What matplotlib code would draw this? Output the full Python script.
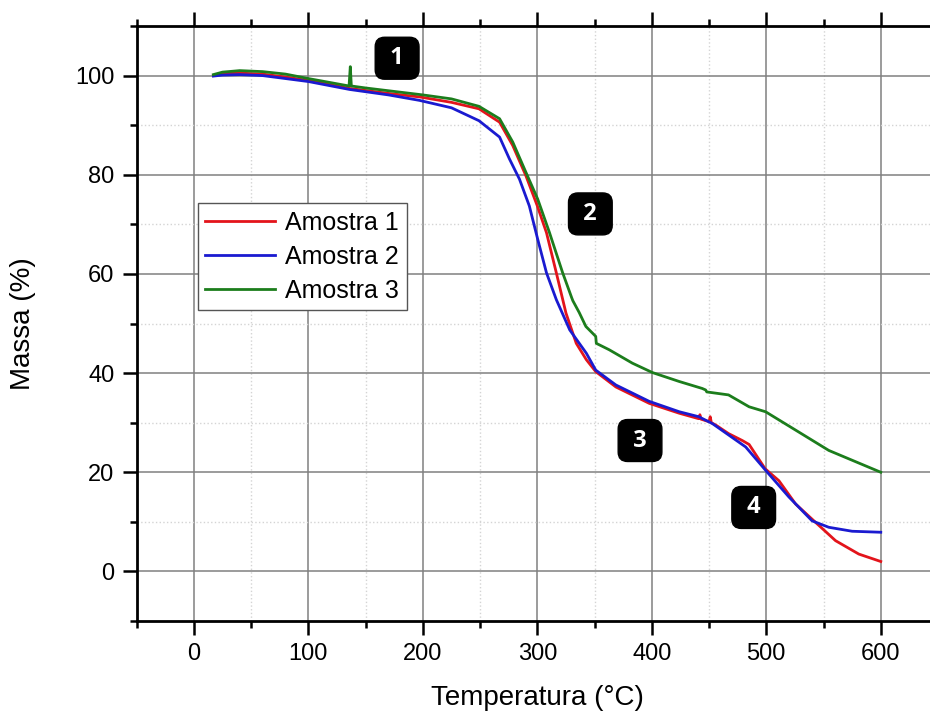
import matplotlib.pyplot as plt
from matplotlib.ticker import MultipleLocator

plt.rcParams['font.family'] = ['Liberation Sans', 'DejaVu Sans']

# Amostra 1 (red)
t1 = [17, 25, 40, 60, 80, 100, 136, 170, 197, 225, 249, 267, 278.5, 290, 300, 308,
      316.6, 325, 334, 342.8, 351, 368.6, 397.7, 424, 441, 442, 443, 450, 451, 452,
      456, 467, 479, 485, 499, 511, 525.6, 543, 560.5, 580.8, 600]
m1 = [100.0, 100.4, 100.5, 100.3, 99.7, 99.0, 97.4, 96.4, 95.7, 94.6, 93.3, 90.6,
      85.9, 79.8, 73.7, 68.3, 60.2, 52.1, 46.0, 42.7, 40.3, 37.2, 33.9, 31.9, 30.8,
      31.6, 30.7, 30.2, 31.2, 30.0, 29.5, 27.8, 26.4, 25.6, 20.7, 18.3, 13.6, 9.9,
      6.2, 3.5, 2.0]

# Amostra 2 (blue)
t2 = [17, 25, 40, 60, 80, 100, 136, 170, 197, 225, 249, 267, 275.6, 284.4, 293,
      300.3, 308, 316.6, 328.3, 342.8, 351, 368.6, 397.7, 424, 441, 453, 482, 499.4,
      519.8, 540, 554.6, 575, 600]
m2 = [99.9, 100.1, 100.2, 100.0, 99.4, 98.8, 97.2, 96.1, 95.0, 93.5, 90.9, 87.6,
      83.2, 79.1, 73.7, 67.0, 60.2, 54.8, 48.7, 44.0, 40.6, 37.6, 34.3, 32.2, 31.2,
      29.8, 25.1, 20.4, 15.0, 10.2, 8.9, 8.1, 7.9]

# Amostra 3 (green)
t3 = [17, 25, 40, 60, 80, 100, 135.5, 136.6, 137.5, 150, 175, 200, 225, 249, 267,
      278.5, 290, 300.3, 310.5, 322, 330, 331, 336.6, 342.4, 351, 351.5, 362.8, 383,
      400.6, 424, 444, 447, 448, 467, 485, 499.4, 525.6, 554.6, 600]
m3 = [100.2, 100.7, 101.0, 100.8, 100.3, 99.4, 97.9, 101.8, 97.9, 97.5, 96.8, 96.1,
      95.3, 93.8, 91.3, 86.6, 80.5, 75.1, 68.4, 60.3, 55.2, 54.6, 52.2, 49.4, 47.4,
      46.0, 44.7, 42.0, 40.1, 38.3, 36.9, 36.6, 36.2, 35.6, 33.2, 32.2, 28.5, 24.4,
      20.0]

badges = ['1', '2', '3', '4']
badge_x = [177.5, 346.3, 389.7, 489]
badge_y = [103.5, 72.1, 26.4, 12.9]

fig = plt.figure(figsize=(9.3, 7.11), dpi=100)
ax = fig.add_axes([136.7 / 930, 90 / 711, (938 - 136.7) / 930, 595 / 711])

ax.plot(t1, m1, color='#e3141b', lw=2, label='Amostra 1')
ax.plot(t2, m2, color='#1a1ad0', lw=2, label='Amostra 2')
ax.plot(t3, m3, color='#1c7d1c', lw=2, label='Amostra 3')

for s, bx, by in zip(badges, badge_x, badge_y):
    ax.text(bx, by, ' ' + s + ' ', ha='center', va='center', color='white',
            fontsize=17, fontweight='bold', family='Open Sans',
            bbox=dict(boxstyle='round,pad=0.38,rounding_size=0.4', fc='black', ec='black'))

ax.set_xlim(-50, 650)
ax.set_ylim(-10, 110)
ax.xaxis.set_major_locator(MultipleLocator(100))
ax.xaxis.set_minor_locator(MultipleLocator(50))
ax.yaxis.set_major_locator(MultipleLocator(20))
ax.yaxis.set_minor_locator(MultipleLocator(10))

ax.grid(which='major', color='#808080', lw=1.1, ls='-')
ax.grid(which='minor', color='#d4d4d4', lw=1.0, ls=':')
ax.set_axisbelow(True)

ax.spines['right'].set_visible(False)
for sp in ['left', 'bottom', 'top']:
    ax.spines[sp].set_linewidth(2)
ax.tick_params(which='major', direction='out', length=10, width=1.8, labelsize=17,
               top=True, labeltop=False, pad=6)
ax.tick_params(which='minor', direction='out', length=5, width=1.8, top=True)

ax.set_xlabel('Temperatura (°C)', fontsize=20, labelpad=14)
ax.set_ylabel('Massa (%)', fontsize=20, labelpad=28)

ax.legend(loc='upper left', bbox_to_anchor=(0.0765, 0.7025), borderaxespad=0,
          fontsize=18, fancybox=False, edgecolor='#555555', framealpha=1,
          handlelength=2.8, handletextpad=0.4, labelspacing=0.4, borderpad=0.3)

fig.savefig('out.png', dpi=100)
